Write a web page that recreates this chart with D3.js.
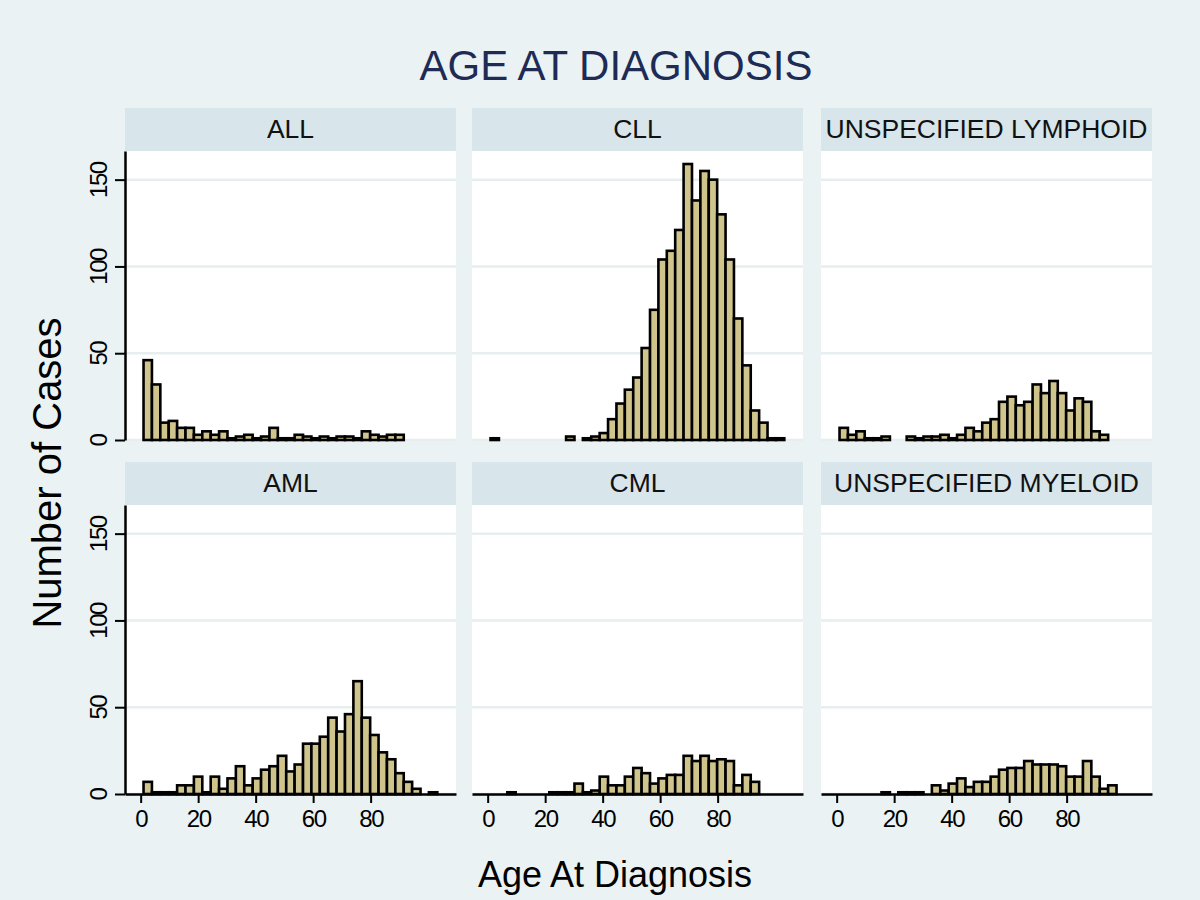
<!DOCTYPE html>
<html>
<head>
<meta charset="utf-8">
<script src="https://cdn.jsdelivr.net/npm/d3@7"></script>
<style>
  html, body { margin: 0; padding: 0; background: #EAF2F3; }
  svg { display: block; }
  text { font-family: "Liberation Sans", Arial, Helvetica, sans-serif; }
</style>
</head>
<body>
<svg id="chart" width="1200" height="900"></svg>
<script>
// ---------------- DATA ----------------
const chartTitle = "AGE AT DIAGNOSIS";
const xTitle = "Age At Diagnosis";
const yTitle = "Number of Cases";
const categories = ["ALL", "CLL", "UNSPECIFIED LYMPHOID", "AML", "CML", "UNSPECIFIED MYELOID"];
const binStart = 1;       // age of first bin edge (years)
const binWidth = 2.92;    // bin width (years)
const countsALL   = [46,32,10,11,7,7,3,5,3,5,1,2,3,1,2,7,1,1,3,2,1,2,1,2,2,1,5,3,2,3,3,0,0,0,0];
const countsCLL   = [1,0,0,0,0,0,0,0,0,2,0,1,2,4,12,21,29,36,53,75,104,109,121,159,138,155,150,130,104,70,43,17,10,1,1];
const countsULymph= [7,3,5,1,1,2,0,0,2,1,2,2,3,1,3,7,5,10,12,22,25,20,22,32,27,34,27,17,24,22,5,3,0,0,0];
const countsAML   = [7,1,1,1,5,5,10,1,10,3,9,16,5,9,14,16,22,13,17,29,29,33,44,36,46,65,44,34,24,20,12,7,3,0,1];
const countsCML   = [0,0,1,0,0,0,0,1,1,1,6,1,2,10,5,5,10,15,12,6,9,11,11,22,19,22,19,20,19,5,11,7,0,0,0];
const countsUMyel = [0,0,0,0,0,1,0,1,1,1,0,5,2,6,9,4,7,7,10,14,15,15,19,17,17,17,16,10,10,19,10,3,5,0,0];
const xTicks = [0, 20, 40, 60, 80];
const yTicks = [0, 50, 100, 150];

const panelCounts = [countsALL, countsCLL, countsULymph, countsAML, countsCML, countsUMyel];

// ---------------- LAYOUT ----------------
const svg = d3.select("#chart");
const colLeft = [125, 472, 821];
const panelW = 331;
const rowStripTop = [108, 462];
const stripH = 43;
const rowPlotTop = [151, 505];
const plotH = 289;

const bg = "#EAF2F3", stripFill = "#D8E5EA", barFill = "#CFC48B", gridCol = "#E6EEF0";

svg.append("rect").attr("width", 1200).attr("height", 900).attr("fill", bg);

// title
svg.append("text").attr("x", 616).attr("y", 80)
  .attr("text-anchor", "middle").attr("font-size", 42)
  .attr("fill", "#1E2B55").text(chartTitle);

const x = d3.scaleLinear().domain([-5.45, 109.7]).range([0, panelW]);
const y = d3.scaleLinear().domain([0, 166.5]).range([plotH, 0]);

panelCounts.forEach((counts, k) => {
  const row = Math.floor(k / 3), col = k % 3;
  const g = svg.append("g").attr("transform", `translate(${colLeft[col]},${rowPlotTop[row]})`);
  // strip
  svg.append("rect").attr("x", colLeft[col]).attr("y", rowStripTop[row])
    .attr("width", panelW).attr("height", stripH).attr("fill", stripFill);
  svg.append("text").attr("x", colLeft[col] + panelW / 2).attr("y", rowStripTop[row] + 30)
    .attr("text-anchor", "middle").attr("font-size", 26.5).attr("fill", "#111")
    .text(categories[k]);
  // plot region
  g.append("rect").attr("width", panelW).attr("height", plotH).attr("fill", "#fff");
  // gridlines
  g.selectAll("line.grid").data(yTicks).enter().append("line")
    .attr("x1", 0).attr("x2", panelW)
    .attr("y1", d => y(d)).attr("y2", d => y(d))
    .attr("stroke", gridCol).attr("stroke-width", 2.5);
  // bars
  const bins = counts.map((c, i) => ({ i, c })).filter(d => d.c > 0);
  g.selectAll("rect.bar").data(bins).enter().append("rect")
    .attr("class", "bar")
    .attr("x", d => x(binStart + d.i * binWidth))
    .attr("width", d => x(binStart + (d.i + 1) * binWidth) - x(binStart + d.i * binWidth))
    .attr("y", d => y(d.c))
    .attr("height", d => y(0) - y(d.c))
    .attr("fill", barFill).attr("stroke", "#000").attr("stroke-width", 2.6);

  // x axis on bottom row
  if (row === 1) {
    const ax = g.append("g").attr("transform", `translate(0,${plotH})`)
      .call(d3.axisBottom(x).tickValues(xTicks).tickSize(9).tickPadding(7).tickSizeOuter(0));
    ax.select(".domain").attr("stroke", "#000").attr("stroke-width", 2.5);
    ax.selectAll(".tick line").attr("stroke", "#000").attr("stroke-width", 2);
    ax.selectAll(".tick text").attr("font-size", 24).attr("fill", "#000")
      .attr("letter-spacing", "-1.5px")
      .attr("font-family", "'Liberation Sans', Arial, sans-serif");
  }
  // y axis on left column
  if (col === 0) {
    const ay = g.append("g")
      .call(d3.axisLeft(y).tickValues(yTicks).tickSize(10).tickSizeOuter(0));
    ay.select(".domain").attr("stroke", "#000").attr("stroke-width", 2.5);
    ay.selectAll(".tick line").attr("stroke", "#000").attr("stroke-width", 2);
    ay.selectAll(".tick text")
      .attr("font-size", 24).attr("fill", "#000")
      .attr("letter-spacing", "-1.5px")
      .attr("font-family", "'Liberation Sans', Arial, sans-serif")
      .attr("text-anchor", "middle")
      .attr("x", null).attr("dy", null)
      .attr("transform", "translate(-18,0) rotate(-90)")
      .attr("y", 0);
  }
});

// axis titles
svg.append("text").attr("x", 615).attr("y", 887)
  .attr("text-anchor", "middle").attr("font-size", 36).attr("fill", "#000").text(xTitle);
svg.append("text").attr("transform", "translate(61,473) rotate(-90)")
  .attr("text-anchor", "middle").attr("font-size", 40).attr("fill", "#000").text(yTitle);
</script>
</body>
</html>
